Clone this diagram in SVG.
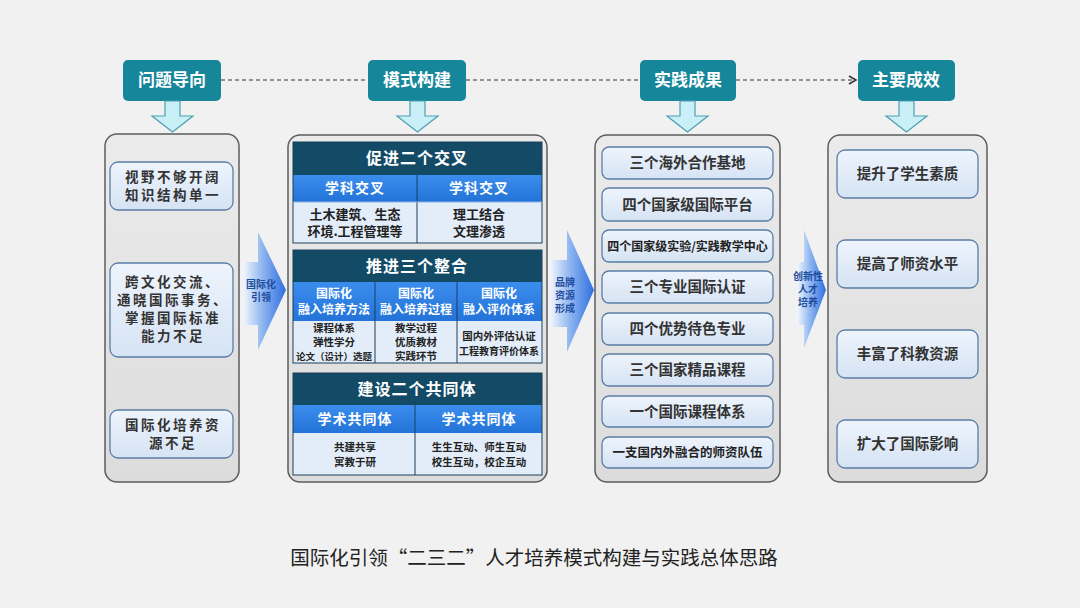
<svg xmlns="http://www.w3.org/2000/svg" width="1080" height="608" viewBox="0 0 1080 608">
<defs>
<linearGradient id="panelG" x1="0" y1="0" x2="0" y2="1"><stop offset="0" stop-color="#ebebeb"/><stop offset="1" stop-color="#dcdcdc"/></linearGradient>
<linearGradient id="boxG" x1="0" y1="0" x2="0" y2="1"><stop offset="0" stop-color="#eef4fc"/><stop offset="1" stop-color="#d5e3f4"/></linearGradient>
<linearGradient id="arrG" x1="0" y1="0" x2="1" y2="0"><stop offset="0" stop-color="#f2f6fd"/><stop offset="0.45" stop-color="#8fb6f0"/><stop offset="1" stop-color="#2e6fe0"/></linearGradient>
<linearGradient id="subG" x1="0" y1="0" x2="0" y2="1"><stop offset="0" stop-color="#3b8ded"/><stop offset="1" stop-color="#2373d8"/></linearGradient>
<marker id="ah" markerWidth="10" markerHeight="10" refX="8" refY="5" orient="auto" markerUnits="userSpaceOnUse"><path d="M1,1 L8,5 L1,9" fill="none" stroke="#333" stroke-width="1.5"/></marker>
<style>
text{font-family:"Noto Sans CJK SC","Noto Sans",sans-serif;text-anchor:middle;}
.hdr{fill:#16869a;}
.hdrT{fill:#fff;font-size:17px;font-weight:bold;}
.down{fill:#c8f0f6;stroke:#4e9fb2;stroke-width:1.2;}
.panel{fill:url(#panelG);stroke:#5c5c5c;stroke-width:1.5;}
.box{fill:url(#boxG);stroke:#5a7ea6;stroke-width:1.3;}
.bt{fill:#333;font-size:13.5px;font-weight:bold;letter-spacing:2.5px;}
.bt2{fill:#333;font-size:14.5px;font-weight:bold;}
.arr{fill:url(#arrG);}
.at{fill:#1f4d9e;font-size:10px;font-weight:bold;}
.dk{fill:#134b67;}
.sub{fill:url(#subG);}
.cell{fill:#e2edf9;}
.grid{fill:none;stroke:#1d3f5c;stroke-width:1;}
.st{fill:#fff;font-size:16px;font-weight:bold;letter-spacing:1px;}
.sbt{fill:#fff;font-size:14px;font-weight:bold;letter-spacing:1px;}
.sbt2{fill:#fff;font-size:12px;font-weight:bold;}
.ct{fill:#222;font-size:13px;font-weight:bold;}
.cs{fill:#222;font-size:10.5px;font-weight:bold;}
.conn{fill:none;stroke:#333;stroke-width:1.2;stroke-dasharray:4,3;}
</style>
</defs>
<rect width="1080" height="608" fill="#f1f1f1"/>

<g id="connectors">
<line class="conn" x1="221" y1="80" x2="368" y2="80"/>
<line class="conn" x1="466" y1="80" x2="640" y2="80"/>
<line class="conn" x1="736" y1="80" x2="856" y2="80" marker-end="url(#ah)"/>
</g>

<g id="h1"><rect class="hdr" x="123" y="60" width="98" height="41" rx="5"/><text class="hdrT" x="172" y="86">问题导向</text></g>
<g id="h2"><rect class="hdr" x="368" y="60" width="98" height="41" rx="5"/><text class="hdrT" x="417" y="86">模式构建</text></g>
<g id="h3"><rect class="hdr" x="640" y="60" width="96" height="41" rx="5"/><text class="hdrT" x="688" y="86">实践成果</text></g>
<g id="h4"><rect class="hdr" x="858" y="60" width="97" height="41" rx="5"/><text class="hdrT" x="906" y="86">主要成效</text></g>

<g id="downs">
<path class="down" d="M165,101 H180 V116 H193 L172.5,132 L152,116 H165 Z"/>
<path class="down" d="M410,101 H425 V116 H438 L417.5,132 L397,116 H410 Z"/>
<path class="down" d="M680,101 H695 V116 H708 L687.5,132 L667,116 H680 Z"/>
<path class="down" d="M899,101 H914 V116 H927 L906.5,132 L886,116 H899 Z"/>
</g>

<g id="panel1">
<rect class="panel" x="105" y="134" width="134" height="348" rx="12"/>
<rect class="box" x="110" y="162" width="123" height="48" rx="8"/>
<text class="bt" x="173" y="182"><tspan x="173">视野不够开阔</tspan><tspan x="173" dy="18">知识结构单一</tspan></text>
<rect class="box" x="110" y="263" width="123" height="94" rx="8"/>
<text class="bt" x="173" y="287"><tspan x="173">跨文化交流、</tspan><tspan x="173" dy="18">通晓国际事务、</tspan><tspan x="173" dy="18">掌握国际标准</tspan><tspan x="173" dy="18">能力不足</tspan></text>
<rect class="box" x="110" y="410" width="123" height="48" rx="8"/>
<text class="bt" x="173" y="430"><tspan x="173">国际化培养资</tspan><tspan x="173" dy="18">源不足</tspan></text>
</g>

<g id="arrow1">
<path class="arr" d="M243,262 H258 V232 L286,290 L258,350 V325 H243 Z"/>
<text class="at" x="261" y="288"><tspan x="261">国际化</tspan><tspan x="261" dy="13">引领</tspan></text>
</g>

<g id="panel2">
<rect class="panel" x="288" y="135" width="259" height="347" rx="12"/>
<g id="sec1">
<rect class="dk" x="293" y="142" width="249" height="33"/>
<rect class="sub" x="293" y="175" width="249" height="27"/>
<rect class="cell" x="293" y="202" width="249" height="41"/>
<rect class="grid" x="293" y="142" width="249" height="101"/>
<line class="grid" x1="417" y1="175" x2="417" y2="243"/>
<line stroke="#8db4e6" x1="293" y1="202" x2="542" y2="202"/>
<text class="st" x="417" y="164">促进二个交叉</text>
<text class="sbt" x="355" y="193">学科交叉</text>
<text class="sbt" x="479" y="193">学科交叉</text>
<text class="ct" x="355" y="219"><tspan x="355">土木建筑、生态</tspan><tspan x="355" dy="17">环境.工程管理等</tspan></text>
<text class="ct" x="479" y="219"><tspan x="479">理工结合</tspan><tspan x="479" dy="17">文理渗透</tspan></text>
</g>
<g id="sec2">
<rect class="dk" x="293" y="250" width="249" height="32"/>
<rect class="sub" x="293" y="282" width="249" height="39"/>
<rect class="cell" x="293" y="321" width="249" height="42"/>
<rect class="grid" x="293" y="250" width="249" height="113"/>
<line class="grid" x1="375" y1="282" x2="375" y2="363"/>
<line class="grid" x1="457" y1="282" x2="457" y2="363"/>
<text class="st" x="417" y="272">推进三个整合</text>
<text class="sbt2" x="334" y="298"><tspan x="334">国际化</tspan><tspan x="334" dy="16">融入培养方法</tspan></text>
<text class="sbt2" x="416" y="298"><tspan x="416">国际化</tspan><tspan x="416" dy="16">融入培养过程</tspan></text>
<text class="sbt2" x="499" y="298"><tspan x="499">国际化</tspan><tspan x="499" dy="16">融入评价体系</tspan></text>
<text class="cs" x="334" y="332"><tspan x="334">课程体系</tspan><tspan x="334" dy="14">弹性学分</tspan><tspan x="334" dy="14" style="font-size:9.5px">论文（设计）选题</tspan></text>
<text class="cs" x="416" y="332"><tspan x="416">教学过程</tspan><tspan x="416" dy="14">优质教材</tspan><tspan x="416" dy="14">实践环节</tspan></text>
<text class="cs" x="499" y="340"><tspan x="499">国内外评估认证</tspan><tspan x="499" dy="15" style="font-size:10px">工程教育评价体系</tspan></text>
</g>
<g id="sec3">
<rect class="dk" x="293" y="373" width="249" height="32"/>
<rect class="sub" x="293" y="405" width="249" height="28"/>
<rect class="cell" x="293" y="433" width="249" height="42"/>
<rect class="grid" x="293" y="373" width="249" height="102"/>
<line class="grid" x1="415" y1="405" x2="415" y2="475"/>
<text class="st" x="417" y="395">建设二个共同体</text>
<text class="sbt" x="355" y="424">学术共同体</text>
<text class="sbt" x="479" y="424">学术共同体</text>
<text class="cs" x="355" y="451"><tspan x="355">共建共享</tspan><tspan x="355" dy="15">寓教于研</tspan></text>
<text class="cs" x="479" y="451"><tspan x="479">生生互动、师生互动</tspan><tspan x="479" dy="15">校生互动，校企互动</tspan></text>
</g>
</g>

<g id="arrow2">
<path class="arr" d="M550,260 H567 V230 L594,290 L567,352 V327 H550 Z"/>
<text class="at" x="565" y="286"><tspan x="565">品牌</tspan><tspan x="565" dy="13">资源</tspan><tspan x="565" dy="13">形成</tspan></text>
</g>

<g id="panel3">
<rect class="panel" x="595" y="135" width="185" height="347" rx="12"/>
<rect class="box" x="602" y="147" width="171" height="32" rx="7"/><text class="bt2" x="687.5" y="168">三个海外合作基地</text>
<rect class="box" x="602" y="188" width="171" height="33" rx="7"/><text class="bt2" x="687.5" y="210">四个国家级国际平台</text>
<rect class="box" x="602" y="230" width="171" height="32" rx="7"/><text class="ct" style="font-size:12px" x="687.5" y="251">四个国家级实验/实践教学中心</text>
<rect class="box" x="602" y="271" width="171" height="32" rx="7"/><text class="bt2" x="687.5" y="292">三个专业国际认证</text>
<rect class="box" x="602" y="313" width="171" height="32" rx="7"/><text class="bt2" x="687.5" y="334">四个优势待色专业</text>
<rect class="box" x="602" y="354" width="171" height="32" rx="7"/><text class="bt2" x="687.5" y="375">三个国家精品课程</text>
<rect class="box" x="602" y="396" width="171" height="31" rx="7"/><text class="bt2" x="687.5" y="417">一个国际课程体系</text>
<rect class="box" x="602" y="437" width="171" height="31" rx="7"/><text class="ct" style="font-size:12.5px" x="687.5" y="457">一支国内外融合的师资队伍</text>
</g>

<g id="arrow3">
<path class="arr" d="M797,262 H804 V230 L826,290 L804,348 V325 H797 Z"/>
<text class="at" x="808" y="280"><tspan x="808">创新性</tspan><tspan x="808" dy="13">人才</tspan><tspan x="808" dy="13">培养</tspan></text>
</g>

<g id="panel4">
<rect class="panel" x="828" y="135" width="159" height="347" rx="12"/>
<rect class="box" x="837" y="150" width="141" height="48" rx="8"/><text class="bt2" x="907.5" y="179">提升了学生素质</text>
<rect class="box" x="837" y="240" width="141" height="48" rx="8"/><text class="bt2" x="907.5" y="269">提高了师资水平</text>
<rect class="box" x="837" y="330" width="141" height="48" rx="8"/><text class="bt2" x="907.5" y="359">丰富了科教资源</text>
<rect class="box" x="837" y="420" width="141" height="48" rx="8"/><text class="bt2" x="907.5" y="449">扩大了国际影响</text>
</g>

<text x="534" y="565" style="font-size:19.5px;fill:#222">国际化引领“二三二”人才培养模式构建与实践总体思路</text>
</svg>
